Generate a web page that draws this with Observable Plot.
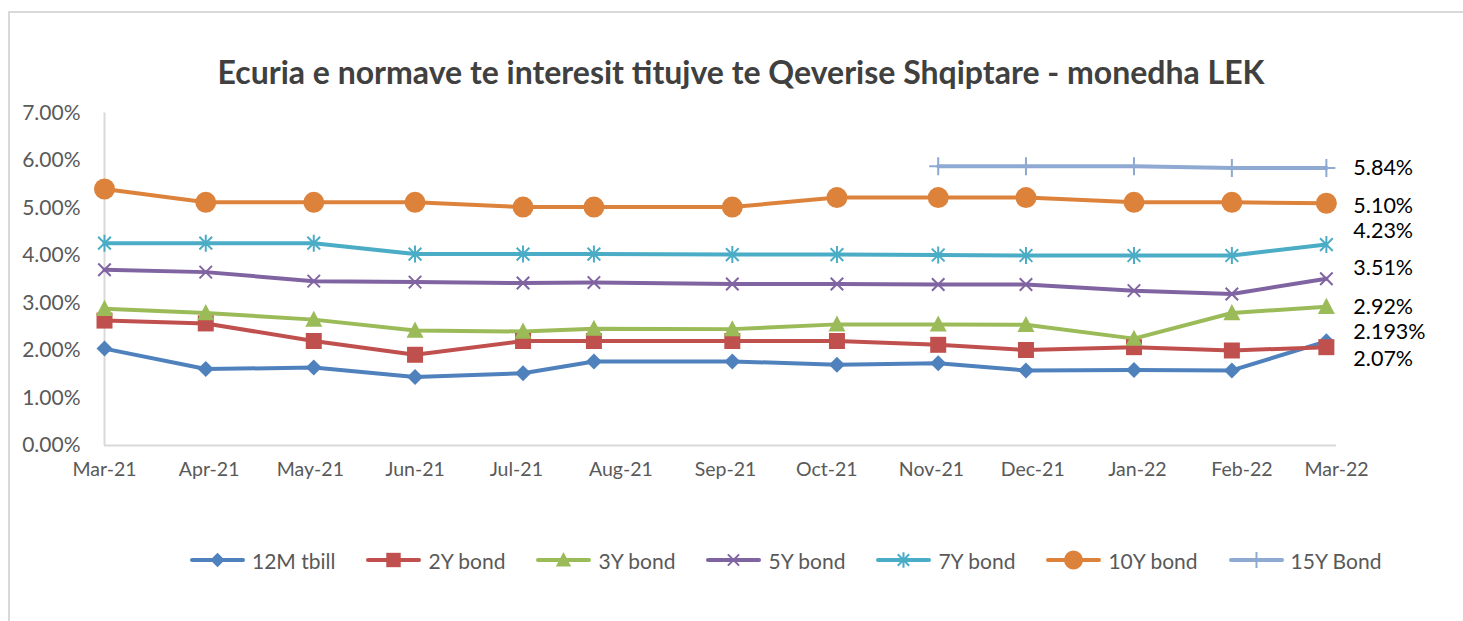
<!DOCTYPE html>
<html>
<head>
<meta charset="utf-8">
<script src="https://cdn.jsdelivr.net/npm/d3@7"></script>
<script src="https://cdn.jsdelivr.net/npm/@observablehq/plot@0.6"></script>
<style>
  body { margin: 0; background: #fff; font-family: Lato, "Open Sans", sans-serif; }
  #wrap { position: relative; width: 1463px; height: 621px; overflow: hidden; background: #fff; }
  #frame { position: absolute; left: 8px; top: 11px; width: 1470px; height: 620px;
           border-left: 2px solid #d9d9d9; border-top: 2px solid #d9d9d9; }
  #title { position: absolute; left: 0; top: 51px; width: 1482px; text-align: center;
           font-weight: 700; font-size: 32px; line-height: 42px; color: #404040; white-space: nowrap; }
  #chart { position: absolute; left: 0; top: 100px; }
  #legend { position: absolute; left: 190px; top: 545px; height: 30px; display: flex; align-items: center; gap: 31px; }
  .item { display: flex; align-items: center; gap: 7px; font-size: 21px; color: #595959; white-space: nowrap; }
</style>
</head>
<body>
<div id="wrap">
  <div id="frame"></div>
  <div id="title">Ecuria e normave te interesit titujve te Qeverise Shqiptare - monedha LEK</div>
  <div id="chart"></div>
  <div id="legend"></div>
</div>
<script>
// ---- data ----
const series = ["12M tbill", "2Y bond", "3Y bond", "5Y bond", "7Y bond", "10Y bond", "15Y Bond"];
const dates = ["2021-03-01", "2021-03-31", "2021-05-02", "2021-06-01", "2021-07-03", "2021-07-24",
               "2021-09-03", "2021-10-04", "2021-11-03", "2021-11-29", "2021-12-31", "2022-01-29", "2022-02-26"];
const tbill12M = [2.04, 1.61, 1.64, 1.44, 1.52, 1.77, 1.77, 1.70, 1.73, 1.58, 1.59, 1.58, 2.193];
const bond2Y   = [2.63, 2.57, 2.20, 1.91, 2.20, 2.20, 2.20, 2.20, 2.12, 2.01, 2.07, 2.00, 2.07];
const bond3Y   = [2.88, 2.79, 2.65, 2.42, 2.40, 2.46, 2.45, 2.55, 2.55, 2.54, 2.25, 2.79, 2.92];
const bond5Y   = [3.70, 3.65, 3.46, 3.44, 3.42, 3.43, 3.40, 3.40, 3.39, 3.39, 3.26, 3.19, 3.51];
const bond7Y   = [4.26, 4.26, 4.26, 4.03, 4.03, 4.03, 4.02, 4.02, 4.01, 4.00, 4.00, 4.00, 4.23];
const bond10Y  = [5.40, 5.12, 5.12, 5.12, 5.02, 5.02, 5.02, 5.22, 5.22, 5.22, 5.12, 5.12, 5.10];
const bond15Y  = [null, null, null, null, null, null, null, null, 5.88, 5.88, 5.88, 5.84, 5.84];
const endLabels = ["2.193%", "2.07%", "2.92%", "3.51%", "4.23%", "5.10%", "5.84%"];
const tickDates = ["2021-03-01", "2021-04-01", "2021-05-01", "2021-06-01", "2021-07-01", "2021-08-01", "2021-09-01",
                   "2021-10-01", "2021-11-01", "2021-12-01", "2022-01-01", "2022-02-01", "2022-03-01"];
const tickLabels = ["Mar-21", "Apr-21", "May-21", "Jun-21", "Jul-21", "Aug-21", "Sep-21",
                    "Oct-21", "Nov-21", "Dec-21", "Jan-22", "Feb-22", "Mar-22"];
const yTicks = [0, 1, 2, 3, 4, 5, 6, 7];

// ---- styling ----
const colors = ["#4F81BD", "#C0504D", "#9BBB59", "#8064A2", "#4BACC6", "#DD823B", "#8EA9D2"];
const values = [tbill12M, bond2Y, bond3Y, bond5Y, bond7Y, bond10Y, bond15Y];
const R = s => Math.sqrt(s / Math.PI);
const symbols = [
  {draw(c, s) { const r = R(s); c.moveTo(0, -r); c.lineTo(r, 0); c.lineTo(0, r); c.lineTo(-r, 0); c.closePath(); }},
  {draw(c, s) { const r = R(s); c.rect(-r, -r, 2 * r, 2 * r); }},
  {draw(c, s) { const r = R(s); c.moveTo(0, -r * 1.05); c.lineTo(r, r * 0.85); c.lineTo(-r, r * 0.85); c.closePath(); }},
  {draw(c, s) { const r = R(s) * 0.78; c.moveTo(-r, -r); c.lineTo(r, r); c.moveTo(-r, r); c.lineTo(r, -r); }},
  {draw(c, s) { const r = R(s); const q = r * 0.75; c.moveTo(-q, -q); c.lineTo(q, q); c.moveTo(-q, q); c.lineTo(q, -q); c.moveTo(0, -r); c.lineTo(0, r); }},
  {draw(c, s) { const r = R(s); c.moveTo(r, 0); c.arc(0, 0, r, 0, 2 * Math.PI); }},
  {draw(c, s) { const r = R(s); c.moveTo(-r, 0); c.lineTo(r, 0); c.moveTo(0, -r); c.lineTo(0, r); }}
];
const filled = [true, true, true, false, false, true, false];
const sizes = [8, 8, 8.5, 8, 8.5, 10.5, 9];
const labelDy = [-9, 12, 0, -11, -13, 3, 0];

const parse = d3.utcParse("%Y-%m-%d");
const rows = [];
series.forEach((s, i) => values[i].forEach((v, j) => {
  if (v != null) rows.push({series: s, date: parse(dates[j]), value: v});
}));
const lastRows = series.map((s, i) => ({series: s, date: parse(dates[dates.length - 1]), value: values[i][values[i].length - 1], label: endLabels[i], dy: labelDy[i]}));

const marks = [
  Plot.ruleY([0], {stroke: "#d9d9d9", strokeWidth: 2}),
  Plot.ruleX([parse(tickDates[0])], {y1: 0, y2: 7, stroke: "#d9d9d9", strokeWidth: 2}),
  Plot.axisY({ticks: yTicks, tickSize: 0, tickPadding: 24, tickFormat: d => d.toFixed(2) + "%", fontSize: 21, fill: "#595959", label: null}),
  Plot.axisX({ticks: tickDates.map(parse), tickSize: 0, tickPadding: 17, tickFormat: (d, i) => tickLabels[i], fontSize: 19.5, fill: "#595959", label: null}),
  Plot.line(rows, {x: "date", y: "value", z: "series", stroke: "series", strokeWidth: 4, strokeLinejoin: "round", strokeLinecap: "round"})
];
series.forEach((s, i) => {
  marks.push(Plot.dot(rows.filter(d => d.series === s), {
    x: "date", y: "value", symbol: symbols[i], r: sizes[i],
    fill: filled[i] ? colors[i] : "none", stroke: colors[i], strokeWidth: filled[i] ? 0 : 2
  }));
});
lastRows.forEach(d => {
  marks.push(Plot.text([d], {x: "date", y: "value", text: "label", dx: 27, dy: d.dy, textAnchor: "start", fontSize: 21.5, fill: "#000"}));
});

const chart = Plot.plot({
  width: 1463,
  height: 400,
  marginLeft: 104,
  marginRight: 127,
  marginTop: 12.5,
  marginBottom: 55,
  style: {fontFamily: "Lato, 'Open Sans', sans-serif", background: "transparent", overflow: "visible"},
  x: {type: "utc", domain: [parse(tickDates[0]), parse(tickDates[tickDates.length - 1])], axis: null},
  y: {domain: [0, 7], axis: null},
  color: {domain: series, range: colors},
  marks
});
document.getElementById("chart").appendChild(chart);

// ---- legend ----
const legend = document.getElementById("legend");
series.forEach((s, i) => {
  const item = document.createElement("div");
  item.className = "item";
  const svg = d3.create("svg").attr("width", 55).attr("height", 24);
  svg.append("line").attr("x1", 2).attr("x2", 53).attr("y1", 12).attr("y2", 12)
     .attr("stroke", colors[i]).attr("stroke-width", 4).attr("stroke-linecap", "round");
  const sz = Math.PI * Math.pow(sizes[i] * 0.9, 2);
  svg.append("path").attr("transform", "translate(27.5,12)")
     .attr("d", d3.symbol(symbols[i], sz)())
     .attr("fill", filled[i] ? colors[i] : "none").attr("stroke", colors[i]).attr("stroke-width", filled[i] ? 0 : 2);
  item.appendChild(svg.node());
  const t = document.createElement("span");
  t.textContent = s;
  item.appendChild(t);
  legend.appendChild(item);
});
</script>
</body>
</html>
